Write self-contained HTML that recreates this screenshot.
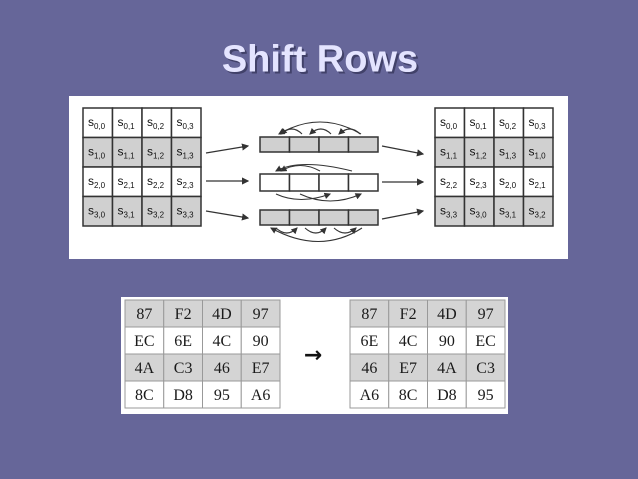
<!DOCTYPE html>
<html><head><meta charset="utf-8"><style>
html,body{margin:0;padding:0;background:#666699;}
svg{display:block}
</style></head><body>
<svg id="s" width="638" height="479" viewBox="0 0 638 479" xmlns="http://www.w3.org/2000/svg">
<rect x="0" y="0" width="638" height="479" fill="#666699"/>
<text x="320" y="45" fill="#2a2a4a" opacity="0.6" font-family="Liberation Sans, sans-serif" font-weight="bold" font-size="38" text-anchor="middle" transform="translate(2,2)" dominant-baseline="hanging">Shift Rows</text>
<text x="320" y="45" fill="#e4e4ff" font-family="Liberation Sans, sans-serif" font-weight="bold" font-size="38" text-anchor="middle" dominant-baseline="hanging">Shift Rows</text>
<rect x="69" y="96" width="499" height="163" fill="#ffffff"/>
<rect x="121" y="297" width="387" height="117" fill="#ffffff"/>
<g id="topg"></g>
<g id="botg"></g>
<text x="313" y="362" font-size="22" font-weight="bold" font-family="DejaVu Sans, sans-serif" text-anchor="middle" fill="#111">→</text>
</svg>
<script>
const leftLabels=[["0,0","0,1","0,2","0,3"],["1,0","1,1","1,2","1,3"],["2,0","2,1","2,2","2,3"],["3,0","3,1","3,2","3,3"]];
const rightLabels=[["0,0","0,1","0,2","0,3"],["1,1","1,2","1,3","1,0"],["2,2","2,3","2,0","2,1"],["3,3","3,0","3,1","3,2"]];
const inputBytes=[["87","F2","4D","97"],["EC","6E","4C","90"],["4A","C3","46","E7"],["8C","D8","95","A6"]];
const outputBytes=[["87","F2","4D","97"],["6E","4C","90","EC"],["46","E7","4A","C3"],["A6","8C","D8","95"]];
const NS="http://www.w3.org/2000/svg";
function mk(tag,attrs,parent){const e=document.createElementNS(NS,tag);for(const k in attrs)e.setAttribute(k,attrs[k]);parent.appendChild(e);return e;}
const topG=document.getElementById('topg'),botG=document.getElementById('botg');
function sGrid(x0,y0,labels,name){
  const cw=29.5,ch=29.5;
  labels.forEach((row,r)=>row.forEach((lab,c)=>{
    const rc=mk('rect',{x:x0+c*cw,y:y0+r*ch,width:cw,height:ch,fill:r%2?'#d0d0d0':'#fff',stroke:'#333','stroke-width':1.5},topG);
    
    
    const t=mk('text',{x:x0+c*cw+5,y:y0+r*ch+18,'font-size':12,'font-family':'Liberation Sans, sans-serif',fill:'#111'},topG);
    
    
    t.textContent='s';
    const sub=mk('tspan',{'font-size':8,dy:3},t);sub.textContent=lab;
  }));
}
sGrid(83,108,leftLabels,'state-grid');
sGrid(435,108,rightLabels,'shifted-grid');
const barYs=[137,174,210],barH=[15,17,15];
barYs.forEach((y,i)=>{
  for(let c=0;c<4;c++){
    const rc=mk('rect',{x:260+c*29.5,y:y,width:29.5,height:barH[i],fill:i===1?'#fff':'#d0d0d0',stroke:'#333','stroke-width':1.5},topG);
    
    
  }
});
const defs=mk('defs',{},topG);
defs.innerHTML='<marker id="ah" markerWidth="6" markerHeight="6" refX="5" refY="3" orient="auto"><path d="M0,0 L6,3 L0,6 z" fill="#333"/></marker>';
const arrows=[[206,153,248,146],[206,181,248,181],[206,211,248,218],[382,146,423,154],[382,182,423,182],[382,219,423,211]];
arrows.forEach(a=>{
  const l=mk('line',{x1:a[0],y1:a[1],x2:a[2],y2:a[3],stroke:'#333','stroke-width':1.2,'marker-end':'url(#ah)'},topG);
  
  
});
const curves=["M361,134 Q320,110 279,134","M302,134 Q292,124 281,134","M331,134 Q321,124 310,134","M360,134 Q350,124 339,134",
"M352,171 Q300,158 276,171","M320,171 Q300,160 281,171","M276,194 Q300,205 330,194","M300,194 Q330,208 361,194",
"M276,228 Q287,238 297,228","M305,228 Q316,238 326,228","M334,228 Q345,238 356,228","M362,228 Q320,255 271,228"];
curves.forEach(d=>{
  const p=mk('path',{d:d,fill:'none',stroke:'#333','stroke-width':1.1,'marker-end':'url(#ah)'},topG);
  
  
});
function bGrid(x0,y0,data,name){
  const cw=38.75,ch=27;
  data.forEach((row,r)=>row.forEach((v,c)=>{
    const rc=mk('rect',{x:x0+c*cw,y:y0+r*ch,width:cw,height:ch,fill:r%2?'#fff':'#d4d4d4',stroke:'#999','stroke-width':1},botG);
    
    
    const t=mk('text',{x:x0+c*cw+cw/2,y:y0+r*ch+19,'font-size':16,'font-family':'Liberation Serif, serif','text-anchor':'middle',fill:'#1a1a1a'},botG);
    
    
    t.textContent=v;
  }));
}
bGrid(125,300,inputBytes,'input-table');
bGrid(350,300,outputBytes,'output-table');
</script>
</body></html>
